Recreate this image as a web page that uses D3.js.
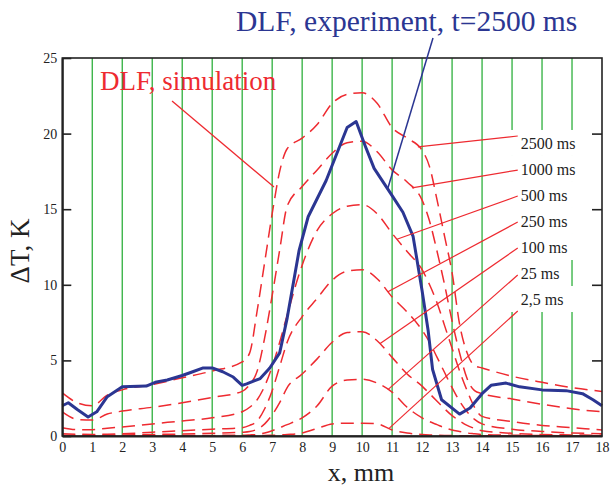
<!DOCTYPE html>
<html>
<head>
<meta charset="utf-8">
<script src="https://cdn.jsdelivr.net/npm/d3@7"></script>
<style>
	body { margin: 0; background: #fff; }
	svg { display: block; }
	text { font-family: "Liberation Serif", "Times New Roman", serif; }
</style>
</head>
<body>
<div id="chart"></div>
<script>
// x grid shared by all simulated profiles (mm)
const simX = [0, 0.5, 1, 1.5, 2, 3, 4, 5, 6, 6.25, 6.5, 6.75, 7, 7.25, 7.5, 8, 8.5, 9, 9.5, 10,
	10.5, 11, 11.5, 12, 12.25, 12.5, 12.75, 13, 13.25, 13.5, 13.75, 14, 15, 16, 17, 18];

// simulated temperature rise, K
const sim2500 = [2.85, 2.2, 2.0, 2.7, 3.05, 3.4, 3.85, 4.3, 4.9, 5.5, 8.3, 11.5, 14.7, 17.5, 19.0, 19.7,
	20.6, 22.0, 22.6, 22.7, 22.0, 20.4, 19.7, 18.9, 17.8, 15.6, 13.2, 10.8, 7.4, 5.5, 4.65, 4.5, 3.95, 3.55, 3.2, 2.95];
const sim1000 = [1.6, 1.1, 1.05, 1.45, 1.65, 1.9, 2.2, 2.55, 2.95, 3.4, 4.3, 6.5, 9.3, 12.3, 15.2, 16.5,
	17.6, 18.7, 19.4, 19.5, 18.8, 17.6, 16.8, 15.6, 14.2, 12.2, 10.0, 7.6, 5.5, 3.8, 3.0, 2.8, 2.45, 2.1, 1.8, 1.6];
const sim500 = [0.55, 0.42, 0.42, 0.52, 0.6, 0.8, 1.0, 1.2, 1.6, 1.9, 2.4, 3.3, 4.6, 6.2, 8.0, 11.3,
	13.6, 14.7, 15.2, 15.3, 14.7, 13.4, 12.2, 11.0, 10.0, 8.8, 7.3, 5.8, 4.3, 3.0, 1.9, 1.3, 0.95, 0.7, 0.55, 0.4];
const sim250 = [0.15, 0.12, 0.1, 0.12, 0.15, 0.25, 0.35, 0.45, 0.55, 0.7, 1.0, 1.8, 3.0, 4.6, 6.2, 7.9,
	9.1, 10.3, 10.9, 11.0, 10.4, 9.2, 8.2, 7.0, 6.2, 5.2, 4.2, 3.2, 2.3, 1.6, 1.1, 0.8, 0.45, 0.3, 0.2, 0.15];
const sim100 = [0.05, 0.05, 0.05, 0.05, 0.07, 0.1, 0.13, 0.18, 0.25, 0.3, 0.45, 0.8, 1.4, 2.2, 3.2, 4.1,
	5.1, 6.2, 6.85, 6.9, 6.3, 5.2, 4.1, 3.3, 2.8, 2.3, 1.8, 1.35, 1.0, 0.7, 0.5, 0.35, 0.18, 0.1, 0.07, 0.05];
const sim25 = [0.02, 0.02, 0.02, 0.02, 0.02, 0.03, 0.03, 0.04, 0.05, 0.07, 0.1, 0.2, 0.35, 0.55, 0.75, 1.2,
	2.0, 3.3, 3.7, 3.75, 3.5, 2.9, 1.9, 1.2, 0.95, 0.75, 0.55, 0.4, 0.3, 0.2, 0.15, 0.1, 0.05, 0.03, 0.02, 0.02];
const sim2_5 = [0.01, 0.01, 0.01, 0.01, 0.01, 0.01, 0.01, 0.01, 0.01, 0.01, 0.02, 0.03, 0.05, 0.07, 0.1, 0.2,
	0.5, 0.8, 0.85, 0.85, 0.8, 0.4, 0.2, 0.1, 0.07, 0.05, 0.04, 0.03, 0.02, 0.02, 0.02, 0.02, 0.01, 0.01, 0.01, 0.01];

const simLabels = ['2500 ms', '1000 ms', '500 ms', '250 ms', '100 ms', '25 ms', '2,5 ms'];
const simSeries = [sim2500, sim1000, sim500, sim250, sim100, sim25, sim2_5];

// label placement (data units) and where each leader touches its curve
const labelX = 15.29;
const labelY = [19.38, 17.66, 15.94, 14.22, 12.5, 10.78, 9.06];
const leaderStartX = 15.19;
const leaderStartY = [19.84, 17.59, 15.87, 14.15, 12.43, 10.65, 8.27];
const leaderEndX = [11.86, 11.66, 11.16, 10.86, 10.59, 10.86, 10.89];

// measured profile, t = 2500 ms
const expX = [0, 0.2, 0.5, 0.86, 1.15, 1.5, 2.0, 2.8, 3.1, 3.5, 4.0, 4.35, 4.7, 5.0, 5.35, 5.7, 6.0, 6.15,
	6.6, 6.92, 7.25, 7.5, 7.9, 8.2, 8.8, 9.5, 9.8, 10.1, 10.4, 11.0, 11.36, 11.7, 12.0, 12.2, 12.35, 12.65,
	13.25, 13.6, 14.0, 14.3, 14.8, 15.25, 16.0, 16.8, 17.35, 17.7, 18.0];
const expY = [2.0, 2.2, 1.75, 1.26, 1.6, 2.6, 3.25, 3.3, 3.55, 3.7, 4.0, 4.25, 4.5, 4.5, 4.25, 3.9, 3.35, 3.45,
	3.8, 4.5, 5.5, 7.8, 12.3, 14.5, 16.9, 20.4, 20.8, 19.2, 17.7, 15.9, 14.8, 13.2, 9.6, 7.0, 4.4, 2.4,
	1.45, 1.85, 2.8, 3.35, 3.5, 3.25, 3.05, 3.0, 2.8, 2.4, 2.0];

const xTicks = d3.range(0, 19);
const yTicks = [0, 5, 10, 15, 20, 25];
const gridX = d3.range(1, 18);

const RED = '#ee2a30';
const BLUE = '#2b3692';
const GREEN = '#3db54a';

const width = 610, height = 490;

const svg = d3.select('#chart').append('svg')
	.attr('width', width)
	.attr('height', height);

const x = d3.scaleLinear().domain([0, 18]).range([62.3, 602]);
const y = d3.scaleLinear().domain([0, 25]).range([436, 58]);

// Vertical green grid
svg.append('g')
	.selectAll('line')
	.data(gridX)
	.join('line')
	.attr('x1', d => x(d)).attr('x2', d => x(d))
	.attr('y1', y(25)).attr('y2', y(0))
	.attr('stroke', GREEN)
	.attr('stroke-width', 1.4);

// Label block: white boxes hide the grid behind each label
const labelG = svg.append('g');
simLabels.forEach((lab, i) => {
	let box = labelG.append('rect').attr('fill', '#fff');
	let t = labelG.append('text')
		.attr('x', x(labelX))
		.attr('y', y(labelY[i]))
		.attr('dy', '0.35em')
		.attr('font-size', 16)
		.attr('fill', '#222')
		.text(lab);
	let w = t.node().getComputedTextLength();
	box.attr('x', x(labelX) - 14)
		.attr('y', y(labelY[i]) - 13)
		.attr('width', w + 24)
		.attr('height', 26);
});
labelG.selectAll('text').raise();

// Simulated curves
const simLine = d3.line()
	.x(d => x(d[0]))
	.y(d => y(d[1]))
	.curve(d3.curveMonotoneX);

svg.append('g')
	.selectAll('path')
	.data(simSeries)
	.join('path')
	.attr('d', s => simLine(simX.map((v, j) => [v, s[j]])))
	.attr('fill', 'none')
	.attr('stroke', RED)
	.attr('stroke-width', 1.5)
	.attr('stroke-dasharray', '13,7');

// Experiment
const expLine = d3.line()
	.x((d, i) => x(expX[i]))
	.y(d => y(d));

svg.append('path')
	.attr('d', expLine(expY))
	.attr('fill', 'none')
	.attr('stroke', BLUE)
	.attr('stroke-width', 3)
	.attr('stroke-linejoin', 'round');

// Leaders from labels to curves
function valueAt(series, xv) {
	let i = d3.bisectRight(simX, xv) - 1;
	i = Math.max(0, Math.min(simX.length - 2, i));
	let f = (xv - simX[i]) / (simX[i + 1] - simX[i]);
	return series[i] + f * (series[i + 1] - series[i]);
}

svg.append('g')
	.selectAll('line')
	.data(simSeries)
	.join('line')
	.attr('x1', x(leaderStartX))
	.attr('y1', (s, i) => y(leaderStartY[i]))
	.attr('x2', (s, i) => x(leaderEndX[i]))
	.attr('y2', (s, i) => y(valueAt(s, leaderEndX[i])))
	.attr('stroke', RED)
	.attr('stroke-width', 1.2);

// Frame and axes
svg.append('rect')
	.attr('x', x(0)).attr('y', y(25))
	.attr('width', x(18) - x(0)).attr('height', y(0) - y(25))
	.attr('fill', 'none')
	.attr('stroke', '#222')
	.attr('stroke-width', 1.6);

let yAxis = d3.axisLeft(y)
	.tickValues(yTicks)
	.tickSizeInner(-9)
	.tickSizeOuter(0)
	.tickPadding(5);

svg.append('g')
	.attr('transform', `translate(${x(0)},0)`)
	.call(yAxis)
	.call(g => g.select('.domain').attr('stroke-width', 2).attr('stroke', '#222'))
	.call(g => g.selectAll('.tick line').attr('stroke-width', 1.6).attr('stroke', '#222'))
	.call(g => g.selectAll('text').attr('font-size', 14).attr('fill', '#222')
		.attr('font-family', '"Liberation Serif", serif'));

svg.append('g')
	.attr('transform', `translate(${x(18)},0)`)
	.call(d3.axisRight(y).tickValues(yTicks.slice(1, 5)).tickSizeInner(-10).tickSizeOuter(0).tickFormat(''))
	.call(g => g.select('.domain').remove())
	.call(g => g.selectAll('.tick line').attr('stroke-width', 1.6).attr('stroke', '#222'));

svg.append('g')
	.attr('transform', `translate(0,${y(0)})`)
	.call(d3.axisBottom(x).tickValues(xTicks).tickSizeInner(0).tickSizeOuter(0).tickPadding(6))
	.call(g => g.select('.domain').attr('stroke-width', 2).attr('stroke', '#222'))
	.call(g => g.selectAll('text').attr('font-size', 14).attr('fill', '#222')
		.attr('font-family', '"Liberation Serif", serif'));

// Axis titles
svg.append('text')
	.attr('x', 361)
	.attr('y', 481)
	.attr('text-anchor', 'middle')
	.attr('font-size', 26)
	.attr('fill', '#222')
	.text('x, mm');

svg.append('text')
	.attr('transform', 'translate(29,251) rotate(-90)')
	.attr('text-anchor', 'middle')
	.attr('font-size', 27)
	.attr('fill', '#222')
	.text('ΔT, K');

// Annotations
svg.append('text')
	.attr('x', 236)
	.attr('y', 31)
	.attr('font-size', 29.5)
	.attr('fill', BLUE)
	.text('DLF, experiment, t=2500 ms');

svg.append('line')
	.attr('x1', 433).attr('y1', 38)
	.attr('x2', x(10.86)).attr('y2', y(16.4))
	.attr('stroke', BLUE)
	.attr('stroke-width', 1.5);

svg.append('text')
	.attr('x', 100)
	.attr('y', 90)
	.attr('font-size', 27)
	.attr('fill', RED)
	.text('DLF, simulation');

svg.append('line')
	.attr('x1', x(3.66)).attr('y1', y(22.16))
	.attr('x2', x(7.06)).attr('y2', y(16.47))
	.attr('stroke', RED)
	.attr('stroke-width', 1.3);
</script>
</body>
</html>
